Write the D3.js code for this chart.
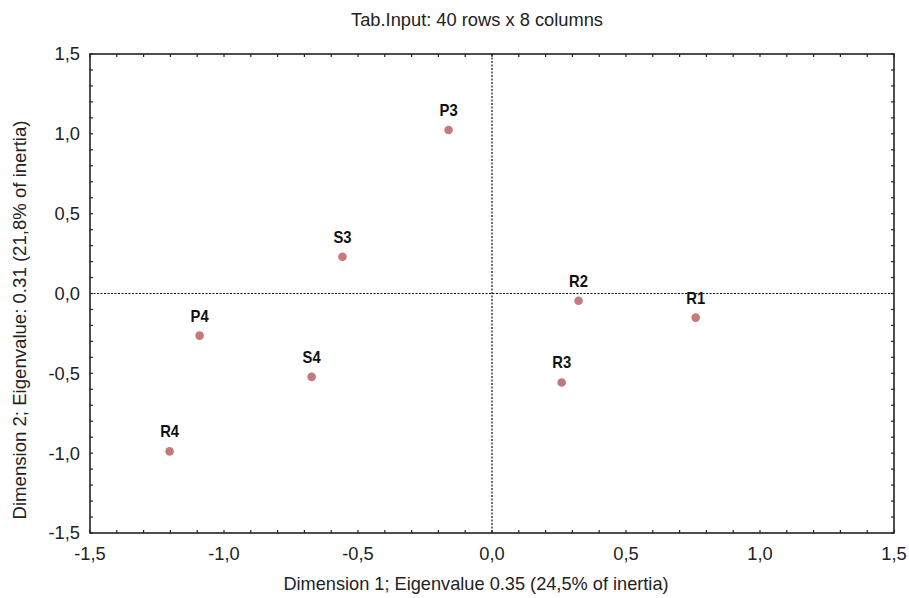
<!DOCTYPE html>
<html lang="en">
<head>
    <meta charset="UTF-8">
    <title>Correspondence analysis plot</title>
    <script src="https://d3js.org/d3.v7.min.js"></script>
    <style>
        body { margin: 0; background: #fff; }
        svg { display: block; font-family: "Liberation Sans", Arial, sans-serif; }
        .frame { fill: none; stroke: #222; stroke-width: 1.6px; }
        .tick-mark { stroke: #222; stroke-width: 1.2px; }
        .zero-line { stroke: #111; stroke-width: 1.2px; stroke-dasharray: 2,1.5; }
        .tick-label { font-size: 18.3px; fill: #222; }
        .axis-title { font-size: 18.2px; fill: #222; }
        .plot-title { font-size: 18.3px; fill: #222; text-anchor: middle; }
        .pt { fill: #c27a7a; }
        .pt-label { font-family: "Liberation Sans", Arial, sans-serif;
                    font-weight: bold; font-size: 17px; fill: #111; text-anchor: middle; }
    </style>
</head>
<body>
<div id="chart"></div>
<script>
    // --- Data ---
    const labels = ["P3", "S3", "R2", "R1", "R3", "P4", "S4", "R4"];
    const dim1 = [-0.162, -0.558, 0.323, 0.760, 0.260, -1.091, -0.673, -1.203];
    const dim2 = [1.024, 0.230, -0.045, -0.151, -0.557, -0.264, -0.522, -0.989];
    const tickValues = [-1.5, -1.0, -0.5, 0.0, 0.5, 1.0, 1.5];
    const minorTicks = d3.range(-15, 16).map(d => d / 10);

    const titleText = "Tab.Input: 40 rows x 8 columns";
    const xTitle = "Dimension 1; Eigenvalue 0.35 (24,5% of inertia)";
    const yTitle = "Dimension 2; Eigenvalue: 0.31 (21,8% of inertia)";

    // --- Layout ---
    const W = 909, H = 598;
    const margin = {top: 54, right: 15, bottom: 65, left: 90};
    const width = W - margin.left - margin.right,
          height = H - margin.top - margin.bottom;

    const svg = d3.select("#chart").append("svg")
        .attr("width", W).attr("height", H);
    const g = svg.append("g").attr("transform", `translate(${margin.left},${margin.top})`);

    const x = d3.scaleLinear().domain([-1.5, 1.5]).range([0, width]);
    const y = d3.scaleLinear().domain([-1.5, 1.5]).range([height, 0]);
    const fmt = d => d3.format(".1f")(d).replace("−", "-").replace(".", ",");

    // zero reference lines
    g.append("line").attr("class", "zero-line")
        .attr("x1", x(0)).attr("x2", x(0)).attr("y1", 0).attr("y2", height);
    g.append("line").attr("class", "zero-line")
        .attr("x1", 0).attr("x2", width).attr("y1", y(0)).attr("y2", y(0));

    // inward ticks on all four sides
    const tl = 3;
    g.selectAll(".tb").data(minorTicks).join("line").attr("class", "tick-mark")
        .attr("x1", d => x(d)).attr("x2", d => x(d)).attr("y1", height).attr("y2", height - tl);
    g.selectAll(".tt").data(minorTicks).join("line").attr("class", "tick-mark")
        .attr("x1", d => x(d)).attr("x2", d => x(d)).attr("y1", 0).attr("y2", tl);
    g.selectAll(".tlft").data(minorTicks).join("line").attr("class", "tick-mark")
        .attr("y1", d => y(d)).attr("y2", d => y(d)).attr("x1", 0).attr("x2", tl);
    g.selectAll(".trgt").data(minorTicks).join("line").attr("class", "tick-mark")
        .attr("y1", d => y(d)).attr("y2", d => y(d)).attr("x1", width).attr("x2", width - tl);

    g.append("rect").attr("class", "frame").attr("width", width).attr("height", height);

    // tick labels
    g.selectAll(".xl").data(tickValues).join("text").attr("class", "tick-label")
        .attr("x", d => x(d)).attr("y", height + 27).attr("text-anchor", "middle").text(fmt);
    g.selectAll(".yl").data(tickValues).join("text").attr("class", "tick-label")
        .attr("x", -10).attr("y", d => y(d)).attr("dy", "0.35em").attr("text-anchor", "end").text(fmt);

    // titles
    svg.append("text").attr("class", "plot-title").attr("x", 477).attr("y", 26).text(titleText);
    g.append("text").attr("class", "axis-title").attr("text-anchor", "middle")
        .attr("x", 476 - margin.left).attr("y", height + 57).text(xTitle);
    g.append("text").attr("class", "axis-title").attr("text-anchor", "middle")
        .style("font-size", "18.6px")
        .attr("transform", "rotate(-90)").attr("x", -(320 - margin.top)).attr("y", -64).text(yTitle);

    // points and labels (labels drawn a little condensed, as in the original)
    const pts = labels.map((l, i) => ({label: l, x: dim1[i], y: dim2[i]}));
    g.selectAll(".pt").data(pts).join("circle").attr("class", "pt")
        .attr("cx", d => x(d.x)).attr("cy", d => y(d.y)).attr("r", 4.3);
    g.selectAll(".pt-label").data(pts).join("text").attr("class", "pt-label")
        .attr("transform", d => `translate(${x(d.x)},${y(d.y) - 14}) scale(0.87,1)`)
        .text(d => d.label);
</script>
</body>
</html>
